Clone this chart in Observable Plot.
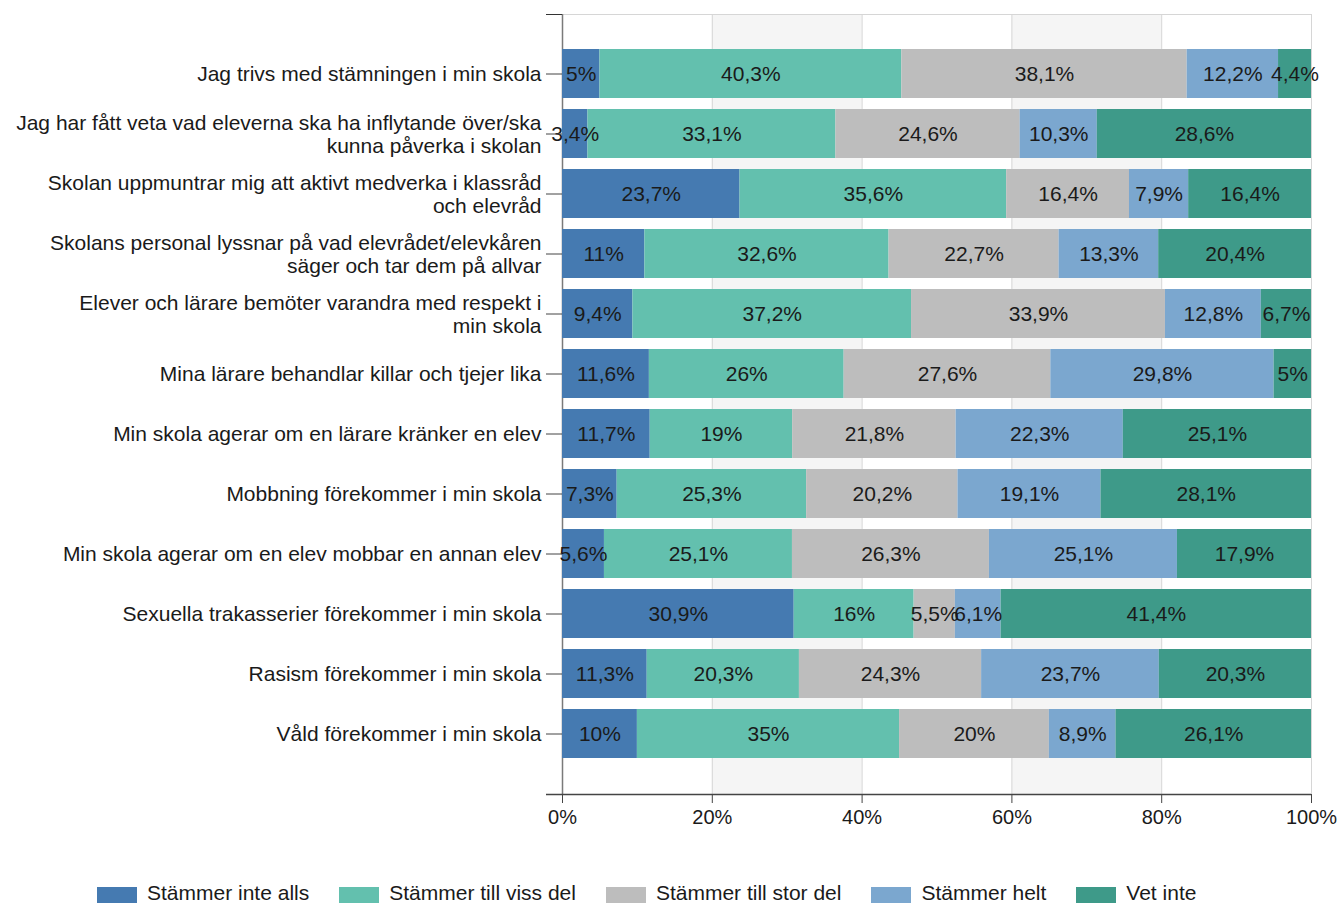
<!DOCTYPE html>
<html><head><meta charset="utf-8">
<script src="https://cdn.jsdelivr.net/npm/d3@7"></script>
<script src="https://cdn.jsdelivr.net/npm/@observablehq/plot@0.6"></script>
<style>
body{margin:0;background:#fff;font-family:"Liberation Sans",Arial,sans-serif;}
#chart{position:absolute;left:0;top:0;}
#legend{display:flex;position:absolute;left:97px;top:883px;font-size:21px;line-height:20px;color:#1a1a1a;white-space:nowrap;}
.item{display:flex;align-items:flex-start;margin-right:30px}
.sw{width:40px;height:16px;margin-top:4px;margin-right:10px}
</style></head><body>
<div id="chart"></div><div id="legend"></div>
<script>
const categories = [
  "Jag trivs med stämningen i min skola",
  "Jag har fått veta vad eleverna ska ha inflytande över/ska\nkunna påverka i skolan",
  "Skolan uppmuntrar mig att aktivt medverka i klassråd\noch elevråd",
  "Skolans personal lyssnar på vad elevrådet/elevkåren\nsäger och tar dem på allvar",
  "Elever och lärare bemöter varandra med respekt i\nmin skola",
  "Mina lärare behandlar killar och tjejer lika",
  "Min skola agerar om en lärare kränker en elev",
  "Mobbning förekommer i min skola",
  "Min skola agerar om en elev mobbar en annan elev",
  "Sexuella trakasserier förekommer i min skola",
  "Rasism förekommer i min skola",
  "Våld förekommer i min skola"
];
const series = ["Stämmer inte alls", "Stämmer till viss del", "Stämmer till stor del", "Stämmer helt", "Vet inte"];
const colors = ["#457ab1", "#63c0ae", "#bdbdbd", "#7ba7cf", "#3e9a89"];
const stammerInteAlls   = [5, 3.4, 23.7, 11, 9.4, 11.6, 11.7, 7.3, 5.6, 30.9, 11.3, 10];
const stammerTillViss   = [40.3, 33.1, 35.6, 32.6, 37.2, 26, 19, 25.3, 25.1, 16, 20.3, 35];
const stammerTillStor   = [38.1, 24.6, 16.4, 22.7, 33.9, 27.6, 21.8, 20.2, 26.3, 5.5, 24.3, 20];
const stammerHelt       = [12.2, 10.3, 7.9, 13.3, 12.8, 29.8, 22.3, 19.1, 25.1, 6.1, 23.7, 8.9];
const vetInte           = [4.4, 28.6, 16.4, 20.4, 6.7, 5, 25.1, 28.1, 17.9, 41.4, 20.3, 26.1];
const xTicks = [0, 0.2, 0.4, 0.6, 0.8, 1];
const bands = [[0.2, 0.4], [0.6, 0.8]];

const seriesValues = [stammerInteAlls, stammerTillViss, stammerTillStor, stammerHelt, vetInte];
const table = [];
series.forEach((s, si) => categories.forEach((c, ci) => table.push({cat: c, series: s, value: seriesValues[si][ci]})));
const fmt = v => String(v).replace(".", ",") + "%";

function decor(index, scales, values, dims) {
  const g = d3.create("svg:g");
  const l = dims.marginLeft, r = dims.width - dims.marginRight, t = dims.marginTop, b = dims.height - dims.marginBottom;
  g.append("line").attr("x1", l).attr("x2", r).attr("y1", t + 0.5).attr("y2", t + 0.5).attr("stroke", "#d6d6d6");
  g.append("line").attr("x1", l + 0.5).attr("x2", l + 0.5).attr("y1", t).attr("y2", b).attr("stroke", "#7a7a7a").attr("stroke-width", 1.5);
  g.append("line").attr("x1", l - 16).attr("x2", l).attr("y1", t + 0.5).attr("y2", t + 0.5).attr("stroke", "#333");
  g.append("line").attr("x1", l - 16).attr("x2", r).attr("y1", b + 0.5).attr("y2", b + 0.5).attr("stroke", "#444").attr("stroke-width", 1.5);
  return g.node();
}

const chart = Plot.plot({
  width: 1340,
  height: 840,
  marginTop: 14,
  marginBottom: 46,
  marginLeft: 562,
  marginRight: 29,
  style: {fontFamily: '"Liberation Sans", Arial, sans-serif', fontSize: "20px", color: "#1a1a1a", background: "#fff", overflow: "visible"},
  x: {domain: [0, 1], label: null},
  y: {domain: categories, insetTop: 29, insetBottom: 31, paddingInner: 0.19, paddingOuter: 0.095, label: null},
  color: {domain: series, range: colors},
  marks: [
    Plot.rectX(bands, {x1: d => d[0], x2: d => d[1], fill: "#f5f5f5"}),
    Plot.ruleX(xTicks.slice(1), {stroke: "#d6d6d6"}),
    decor,
    Plot.barX(table, {x: "value", y: "cat", fill: "series", offset: "normalize"}),
    Plot.text(table, Plot.stackX({x: "value", y: "cat", z: "series", offset: "normalize", text: d => fmt(d.value), fill: "#1a1a1a", fontSize: 21})),
    Plot.axisX({ticks: xTicks, tickFormat: d3.format(".0%"), tickSize: 9, tickPadding: 6, fontSize: 20, stroke: "#444", label: null}),
    Plot.axisY({tickSize: 16, tickFormat: () => "", stroke: "#444", label: null}),
    Plot.text(categories, {y: d => d, text: d => d, frameAnchor: "left", textAnchor: "end", dx: -21, fontSize: 21, lineHeight: 1.1, fill: "#1a1a1a"})
  ]
});
document.getElementById("chart").appendChild(chart);

const legend = document.getElementById("legend");
series.forEach((s, i) => {
  const it = document.createElement("div"); it.className = "item";
  const sw = document.createElement("div"); sw.className = "sw"; sw.style.background = colors[i];
  const tx = document.createElement("span"); tx.textContent = s;
  it.appendChild(sw); it.appendChild(tx); legend.appendChild(it);
});
</script>
</body></html>
